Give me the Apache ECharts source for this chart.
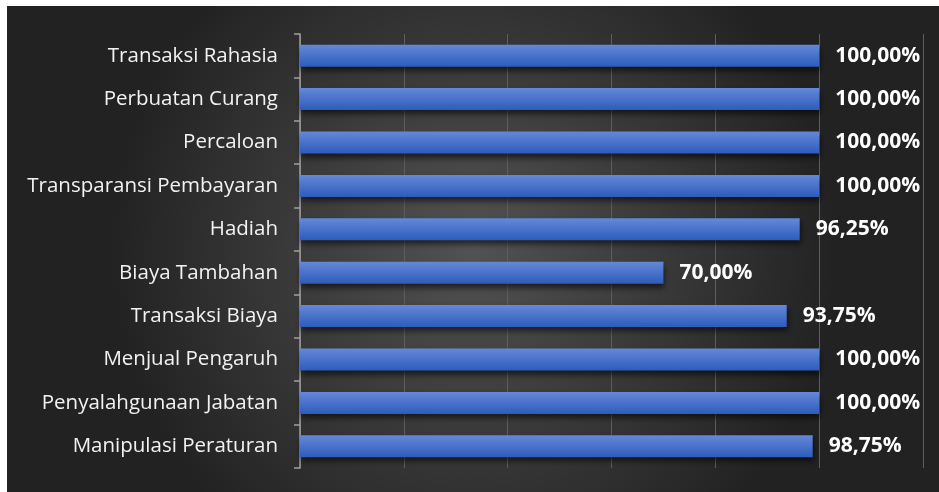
<!DOCTYPE html>
<html>
<head>
<meta charset="utf-8">
<script src="https://cdn.jsdelivr.net/npm/echarts@6/dist/echarts.min.js"></script>
<style>
  html, body { margin: 0; padding: 0; background: #ffffff; }
  #chart { position: absolute; left: 7px; top: 6px; width: 932px; height: 486px; }
</style>
</head>
<body>
<div id="chart"></div>
<script>
  // categories listed top to bottom
  const categories = [
    'Transaksi Rahasia',
    'Perbuatan Curang',
    'Percaloan',
    'Transparansi Pembayaran',
    'Hadiah',
    'Biaya Tambahan',
    'Transaksi Biaya',
    'Menjual Pengaruh',
    'Penyalahgunaan Jabatan',
    'Manipulasi Peraturan'
  ];
  const values = [100, 100, 100, 100, 96.25, 70, 93.75, 100, 100, 98.75];

  const chart = echarts.init(document.getElementById('chart'));
  chart.setOption({
    backgroundColor: new echarts.graphic.RadialGradient(0.5, 0.5, 0.75, [
      { offset: 0, color: '#525252' },
      { offset: 1, color: '#222222' }
    ]),
    animation: false,
    grid: {
      left: 293,
      right: 16,
      top: 28,
      bottom: 24
    },
    xAxis: {
      type: 'value',
      min: 0,
      max: 120,
      interval: 20,
      axisLabel: { show: false },
      axisLine: { show: false },
      axisTick: { show: false },
      splitLine: { lineStyle: { color: '#5e5e5e', width: 1 } }
    },
    yAxis: {
      type: 'category',
      inverse: true,
      data: categories,
      axisLine: { lineStyle: { color: '#a0a0a0', width: 1.5 } },
      axisTick: { show: true, length: 6, lineStyle: { color: '#a0a0a0', width: 1.5 } },
      axisLabel: {
        color: '#f2f2f2',
        fontFamily: 'Open Sans',
        fontSize: 20.5,
        margin: 22
      }
    },
    series: [
      {
        type: 'bar',
        data: values,
        barWidth: 22,
        itemStyle: {
          color: new echarts.graphic.LinearGradient(0, 0, 0, 1, [
            { offset: 0, color: '#6588d8' },
            { offset: 1, color: '#2d5cbc' }
          ]),
          shadowColor: 'rgba(0,0,0,0.6)',
          shadowBlur: 6,
          shadowOffsetY: 4,
          shadowOffsetX: 1
        },
        label: {
          show: true,
          position: 'right',
          distance: 16,
          color: '#ffffff',
          fontFamily: 'Open Sans',
          fontWeight: 'bold',
          fontSize: 21,
          formatter: function (p) {
            return p.value.toFixed(2).replace('.', ',') + '%';
          }
        }
      }
    ]
  });
</script>
</body>
</html>
